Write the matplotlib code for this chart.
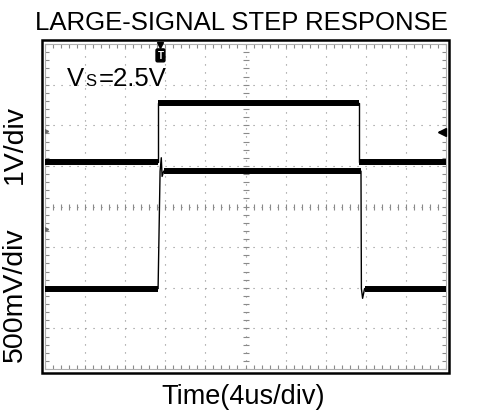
import matplotlib.pyplot as plt
import numpy as np
from matplotlib.patches import Rectangle

plt.rcParams['font.family'] = ['Liberation Sans', 'DejaVu Sans']

# scope screen in divisions: 10 across, 8 up
# channel 1 (input, 1V/div)
ch1_t = [0.0, 2.82, 2.82, 7.83, 7.83, 10.0]
ch1_v = [5.09, 5.09, 6.55, 6.55, 5.10, 5.10]
# channel 2 (output, 500mV/div)
ch2_t = [0.0, 2.82, 2.87, 2.90, 2.92, 2.96, 7.88, 7.89, 7.92, 7.97, 10.0]
ch2_v = [1.98, 1.98, 4.87, 5.20, 4.74, 4.87, 4.87, 1.98, 1.74, 1.98, 1.98]

trig_t = 2.88
ref_level = 5.83
gnd_marks = [5.86, 3.44]

W, H = 479, 414
fig = plt.figure(figsize=(W / 100, H / 100), dpi=100)

def fx(x):
    return x / W

def fy(y):
    return 1 - y / H

ax = fig.add_axes([fx(45), fy(370), fx(446) - fx(45), fy(45) - fy(370)])
ax.set_xlim(0, 10)
ax.set_ylim(0, 8)

# graticule
grid_col = '#8a8a8a'
for k in range(1, 10):
    ax.axvline(k, color=grid_col, lw=0.8, ls=(0, (1, 6.2)), zorder=1)
for k in range(1, 8):
    ax.axhline(k, color=grid_col, lw=0.8, ls=(0, (1, 6.2)), zorder=1)
minor_x = np.arange(0, 10.01, 0.2)
minor_y = np.arange(0, 8.01, 0.2)
ax.plot(minor_x, np.full_like(minor_x, 4), ls='none', marker='|', ms=4,
        mew=0.8, color=grid_col, zorder=1)
ax.plot(np.full_like(minor_y, 5), minor_y, ls='none', marker='_', ms=4,
        mew=0.8, color=grid_col, zorder=1)
ax.set_xticks(range(11))
ax.set_yticks(range(9))
ax.set_xticks(minor_x, minor=True)
ax.set_yticks(minor_y, minor=True)
ax.tick_params(which='both', direction='in', top=True, right=True,
               labelbottom=False, labelleft=False, color=grid_col,
               length=3, width=0.8)
for s in ax.spines.values():
    s.set_color('#b0b0b0')
    s.set_linewidth(0.8)

# traces: thin edges, noisy thick flat levels
for t, v in [(ch1_t, ch1_v), (ch2_t, ch2_v)]:
    ax.plot(t, v, color='black', lw=1.0, zorder=3)
    for i in range(len(t) - 1):
        if v[i] == v[i + 1] and t[i + 1] - t[i] > 0.2:
            ax.plot([t[i], t[i + 1]], [v[i], v[i + 1]], color='black',
                    lw=4.3, solid_capstyle='butt', zorder=3)

# trigger and reference markers
ax.plot([trig_t], [7.97], marker='v', ms=5, color='black', clip_on=False, zorder=4)
ax.text(trig_t, 7.72, 'T', color='white', fontsize=7, fontweight='bold',
        ha='center', va='center', zorder=5,
        bbox=dict(boxstyle='round,pad=0.15', fc='black', ec='black'))
ax.plot([9.9], [ref_level], marker='<', ms=6, color='black', clip_on=False, zorder=4)
ax.plot([9.85, 10.0], [ref_level, ref_level], color='black', lw=1.2, zorder=4)
ax.plot([0.03] * len(gnd_marks), gnd_marks, ls='none', marker='>', ms=3,
        color='#666666', zorder=4)

# outer frame
fig.add_artist(Rectangle((fx(42), fy(374)), fx(449) - fx(42), fy(41) - fy(374),
                         transform=fig.transFigure, fill=False, ec='black', lw=1.8))

# texts
fig.text(fx(241.5), fy(30), 'LARGE-SIGNAL STEP RESPONSE', fontsize=18.5,
         ha='center', va='baseline')
fig.text(fx(67), fy(86), 'V', fontsize=18.5, ha='left', va='baseline')
fig.text(fx(85.5), fy(86), 'S', fontsize=12, ha='left', va='baseline')
fig.text(fx(99), fy(86), '=2.5V', fontsize=18.5, ha='left', va='baseline')
fig.text(fx(15), fy(145), '1V/div', fontsize=20.5, rotation=90,
         ha='center', va='center')
fig.text(fx(15), fy(295), '500mV/div', fontsize=20.5, rotation=90,
         ha='center', va='center')
fig.text(fx(243.5), fy(404), 'Time(4us/div)', fontsize=19.5,
         ha='center', va='baseline')

fig.savefig('out.png', dpi=100)
